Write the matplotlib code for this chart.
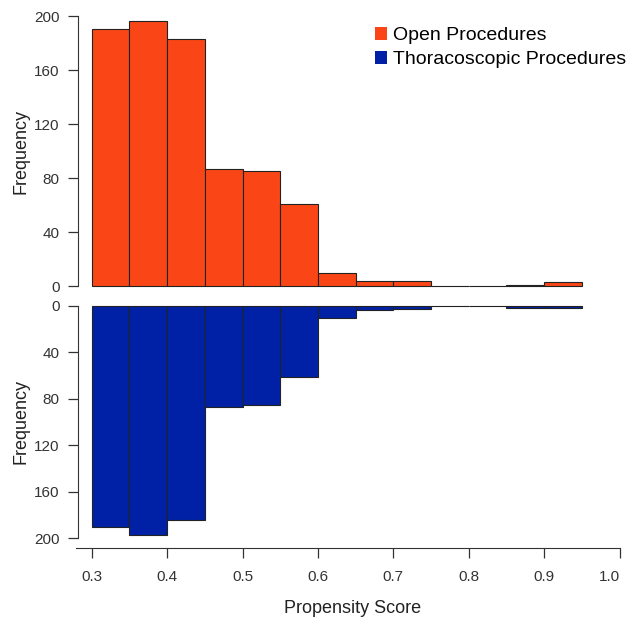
import matplotlib
matplotlib.use("Agg")
import matplotlib.pyplot as plt
from matplotlib.patches import Patch

# bin edges of the propensity score histograms
bin_edges = [0.30, 0.35, 0.40, 0.45, 0.50, 0.55, 0.60, 0.65,
             0.70, 0.75, 0.80, 0.85, 0.90, 0.95]
open_counts = [190, 196, 183, 87, 85, 61, 10, 4, 4, 0, 0, 1, 3]
thor_counts = [190, 197, 184, 87, 85, 61, 11, 4, 3, 0, 0, 2, 2]

y_ticks = [0, 40, 80, 120, 160, 200]
x_ticks = [0.3, 0.4, 0.5, 0.6, 0.7, 0.8, 0.9, 1.0]

open_color = '#FA4616'
thor_color = '#0021A5'
axis_color = '#333333'

plt.rcParams['font.family'] = ['Liberation Sans', 'DejaVu Sans']

fig = plt.figure(figsize=(6.27, 6.19), dpi=100)
W, H = 627, 619


def axes_px(left, top, right, bottom):
    return fig.add_axes([left / W, 1 - bottom / H, (right - left) / W, (bottom - top) / H])


ax1 = axes_px(77.7, 5.2, 627, 296.8)
ax2 = axes_px(77.7, 296.4, 627, 547.6)

lefts = bin_edges[:-1]
widths = [b - a for a, b in zip(bin_edges[:-1], bin_edges[1:])]

ax1.bar(lefts, open_counts, width=widths, align='edge', color=open_color,
        edgecolor='#222222', linewidth=0.8)
ax2.bar(lefts, thor_counts, width=widths, align='edge', color=thor_color,
        edgecolor='#222222', linewidth=0.8)

xlim = (0.3 - 14.0 / 754, 0.3 + (627 - 91.7) / 754)
for ax in (ax1, ax2):
    ax.set_xlim(*xlim)
    ax.spines['top'].set_visible(False)
    ax.spines['right'].set_visible(False)
    ax.spines['left'].set_bounds(0, 200)
    ax.spines['left'].set_color(axis_color)
    ax.set_yticks(y_ticks)
    ax.set_yticklabels([str(v) for v in y_ticks])
    ax.tick_params(axis='y', length=7, width=0.9, pad=6, labelsize=11,
                   colors=axis_color, labelcolor='#333333')
    ax.set_ylabel('Frequency', fontsize=13, color='#222222', labelpad=3)

ax1.set_ylim(-8, 208)
ax1.spines['bottom'].set_visible(False)
ax1.set_xticks([])

ax2.set_ylim(208, -8)
ax2.spines['bottom'].set_bounds(0.279, 1.0)
ax2.spines['bottom'].set_color(axis_color)
ax2.set_xticks(x_ticks)
ax2.set_xticklabels([f'{v:.1f}' for v in x_ticks])
ax2.get_xticklabels()[-1].set_horizontalalignment('right')
ax2.tick_params(axis='x', length=7, width=0.9, pad=9, labelsize=11,
                colors=axis_color, labelcolor='#333333')
ax2.set_xlabel('Propensity Score', fontsize=13, color='#222222', labelpad=12)

handles = [Patch(facecolor=open_color, edgecolor='none'),
           Patch(facecolor=thor_color, edgecolor='none')]
fig.legend(handles, ['Open Procedures', 'Thoracoscopic Procedures'],
           loc='upper left', bbox_to_anchor=(375 / W, 1 - 27 / H),
           frameon=False, fontsize=14, handlelength=0.62, handleheight=0.62,
           handletextpad=0.3, labelspacing=0.35, borderpad=0, borderaxespad=0)

fig.savefig('out.png', dpi=100)
